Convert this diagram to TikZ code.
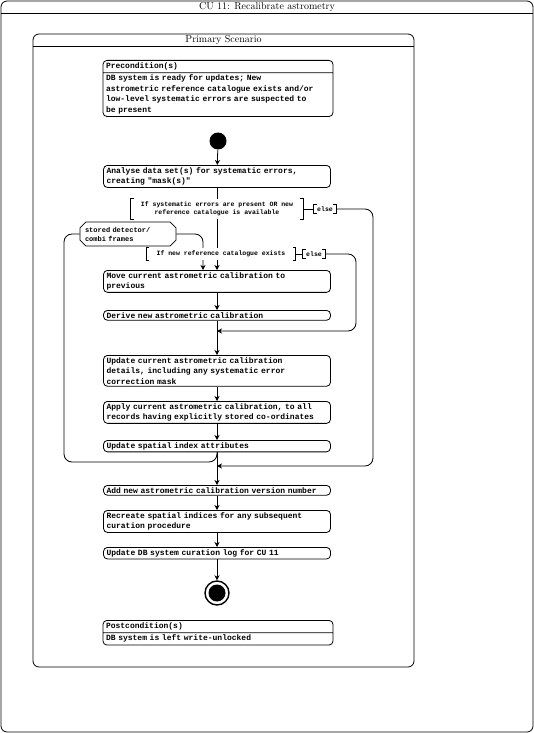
\documentclass[tikz,border=0pt]{standalone}
\usepackage{fontspec}
\setmonofont{Liberation Mono}
\usetikzlibrary{arrows.meta,shapes.misc,shapes.multipart}

\newcommand{\guardmarks}[1]{%
  \draw ([xshift=3pt]#1.north west) -- (#1.north west) -- (#1.south west) -- ([xshift=3pt]#1.south west)
        ([xshift=-3pt]#1.north east) -- (#1.north east) -- (#1.south east) -- ([xshift=-3pt]#1.south east);}

\begin{document}
\begin{tikzpicture}[x=1pt,y=-1pt,line width=0.8pt,
  action/.style={draw,rounded corners=4pt,anchor=north,text width=221pt,align=left,
    inner xsep=3pt,inner ysep=2pt,font={\ttfamily\bfseries\fontsize{8}{10.5}\selectfont}},
  cond/.style={action,text width=224pt,rectangle split,rectangle split parts=2},
  guard/.style={fill=white,inner xsep=10pt,inner ysep=3pt,align=center,
    font={\ttfamily\bfseries\fontsize{6.5}{8}\selectfont}},
  elseguard/.style={guard,inner xsep=3pt,inner ysep=2pt},
  objbox/.style={draw,chamfered rectangle,chamfered rectangle xsep=3pt,chamfered rectangle ysep=3pt,
    text width=86pt,align=left,inner xsep=2pt,inner ysep=2pt,
    font={\ttfamily\bfseries\fontsize{7}{9}\selectfont}},
  startnode/.style={circle,fill,minimum size=17pt,inner sep=0pt},
  finalnode/.style={circle,draw,line width=1.4pt,minimum size=24pt,inner sep=0pt},
  flow/.style={-{Stealth[length=5pt,width=5pt,inset=1.5pt]}}]
\useasboundingbox (0,0) rectangle (534,733);

\draw[rounded corners=6pt] (1,1) rectangle (533,732);
\draw (1,13) -- (533,13);
\node (title) at (267,7) {CU 11: Recalibrate astrometry};

\draw[rounded corners=6pt] (33,34) rectangle (414,667);
\draw (33,46) -- (414,46);
\node (scen) at (223.5,40) {Primary Scenario};

\node[cond] (pre) at (218,60) {Precondition(s)\nodepart{two}DB system is ready for updates; New\\astrometric reference catalogue exists and/or\\low-level systematic errors are suspected to\\be present};

\node[startnode] (start) at (218,141) {};
\node[action] (analyse) at (217,165) {Analyse data set(s) for systematic errors,\\creating "mask(s)"};
\node[action] (move) at (217,270) {Move current astrometric calibration to\\previous};
\node[action] (derive) at (217,310) {Derive new astrometric calibration};
\node[action] (update) at (217,355) {Update current astrometric calibration\\details, including any systematic error\\correction mask};
\node[action] (apply) at (217,401) {Apply current astrometric calibration, to all\\records having explicitly stored co-ordinates};
\node[action] (spatial) at (217,440) {Update spatial index attributes};
\node[action] (addver) at (217,485) {Add new astrometric calibration version number};
\node[action] (recreate) at (217,510) {Recreate spatial indices for any subsequent\\curation procedure};
\node[action] (curlog) at (217,547) {Update DB system curation log for CU 11};
\node[finalnode] (stop) at (217,593) {};
\fill (stop.center) circle (8.5);

\node[cond] (post) at (218,620) {Postcondition(s)\nodepart{two}DB system is left write-unlocked};

\node[objbox] (stored) at (128,234) {stored detector/\\combi frames};

\coordinate (m1) at (217,331);
\coordinate (r1) at (356,331);
\coordinate (m2) at (217,466);
\coordinate (r2) at (373,466);

\draw[flow] (start) -- (analyse);
\draw[flow] (analyse) -- (move);
\draw[flow] (move) -- (derive);
\draw[flow] (derive) -- (update);
\draw[flow] (update) -- (apply);
\draw[flow] (apply) -- (spatial);
\draw[flow] (spatial) -- (addver);
\draw[flow] (addver) -- (recreate);
\draw[flow] (recreate) -- (curlog);
\draw[flow] (curlog) -- (stop);

\draw[rounded corners=8pt] (spatial.south) |- (64,462) |- (stored.west);
\draw[flow,rounded corners=8pt] (stored.east) -| ([xshift=-14pt]move.north);

\node[guard] (g1) at (217,209) {If systematic errors are present OR new\\reference catalogue is available};
\guardmarks{g1}
\node[elseguard] (else1) at (325,209) {else};
\guardmarks{else1}
\draw (g1.east) -- (else1.west);
\draw[flow,rounded corners=8pt] (else1.east) -| (r2) -- (m2);

\node[guard] (g2) at (221,254) {If new reference catalogue exists};
\guardmarks{g2}
\node[elseguard] (else2) at (314,254) {else};
\guardmarks{else2}
\draw (g2.east) -- (else2.west);
\draw[flow,rounded corners=8pt] (else2.east) -| (r1) -- (m1);
\end{tikzpicture}
\end{document}
